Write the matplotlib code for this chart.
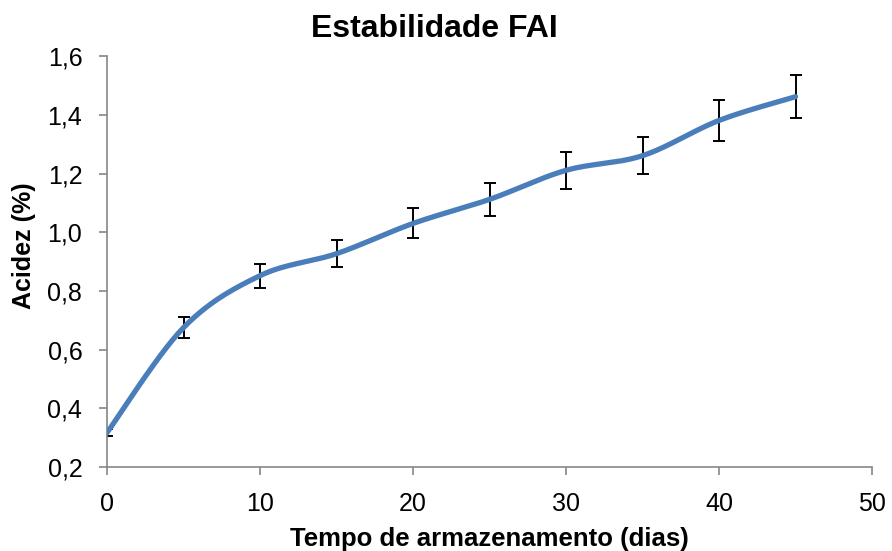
import numpy as np
import matplotlib
matplotlib.use("Agg")
import matplotlib.pyplot as plt

plt.rcParams['font.family'] = ['Liberation Sans', 'DejaVu Sans']

# dados
dias = [0, 5, 10, 15, 20, 25, 30, 35, 40, 45]
acidez = [0.317, 0.675, 0.852, 0.927, 1.030, 1.112, 1.211, 1.261, 1.381, 1.462]
erro = [0.011, 0.035, 0.041, 0.046, 0.051, 0.056, 0.062, 0.064, 0.069, 0.074]
xticks = [0, 10, 20, 30, 40, 50]
yticks = [0.2, 0.4, 0.6, 0.8, 1.0, 1.2, 1.4, 1.6]


def suavizar(x, y, n=30):
    # curva suavizada tipo Excel (Catmull-Rom / Bezier)
    x = np.asarray(x, float)
    y = np.asarray(y, float)
    px = np.concatenate([[x[0]], x, [x[-1]]])
    py = np.concatenate([[y[0]], y, [y[-1]]])
    xs, ys = [], []
    t = np.linspace(0, 1, n)
    for i in range(1, len(px) - 2):
        p0 = np.array([px[i], py[i]])
        p3 = np.array([px[i + 1], py[i + 1]])
        c1 = p0 + (np.array([px[i + 1], py[i + 1]]) - np.array([px[i - 1], py[i - 1]])) / 6
        c2 = p3 - (np.array([px[i + 2], py[i + 2]]) - np.array([px[i], py[i]])) / 6
        b = ((1 - t) ** 3)[:, None] * p0 + (3 * (1 - t) ** 2 * t)[:, None] * c1 \
            + (3 * (1 - t) * t ** 2)[:, None] * c2 + (t ** 3)[:, None] * p3
        xs.extend(b[:, 0])
        ys.extend(b[:, 1])
    return xs, ys


fig = plt.figure(figsize=(8.92, 5.51), dpi=100)
ax = fig.add_axes([0.12, 0.1525, 0.8576, 0.7455])

ax.errorbar(dias, acidez, yerr=erro, fmt='none', ecolor='black',
            elinewidth=1.4, capsize=4, capthick=1.4, zorder=2)
sx, sy = suavizar(dias, acidez)
ax.plot(sx, sy, color='#4A7EBB', linewidth=3.8, solid_capstyle='round', zorder=3)

ax.set_xlim(0, 50)
ax.set_ylim(0.2, 1.6)
ax.set_xticks(xticks)
ax.set_yticks(yticks)
ax.set_yticklabels([('%.1f' % v).replace('.', ',') for v in yticks])
ax.set_xticklabels([str(v) for v in xticks])

for s in ['top', 'right']:
    ax.spines[s].set_visible(False)
for s in ['left', 'bottom']:
    ax.spines[s].set_color('#868686')
    ax.spines[s].set_linewidth(1.2)
ax.tick_params(axis='both', colors='#868686', length=5.8, width=1.2,
               labelsize=18, labelcolor='black', direction='out', pad=12)

fig.text(434.5 / 892, 1 - 37 / 551, 'Estabilidade FAI', ha='center', va='baseline',
         fontsize=23, fontweight='bold')
fig.text(489.5 / 892, 1 - 546 / 551, 'Tempo de armazenamento (dias)', ha='center',
         va='baseline', fontsize=18.5, fontweight='bold')
fig.text(24 / 892, 1 - 246 / 551, 'Acidez (%)', ha='center', va='center',
         rotation=90, fontsize=18, fontweight='bold')

fig.savefig('out.png', dpi=100)
